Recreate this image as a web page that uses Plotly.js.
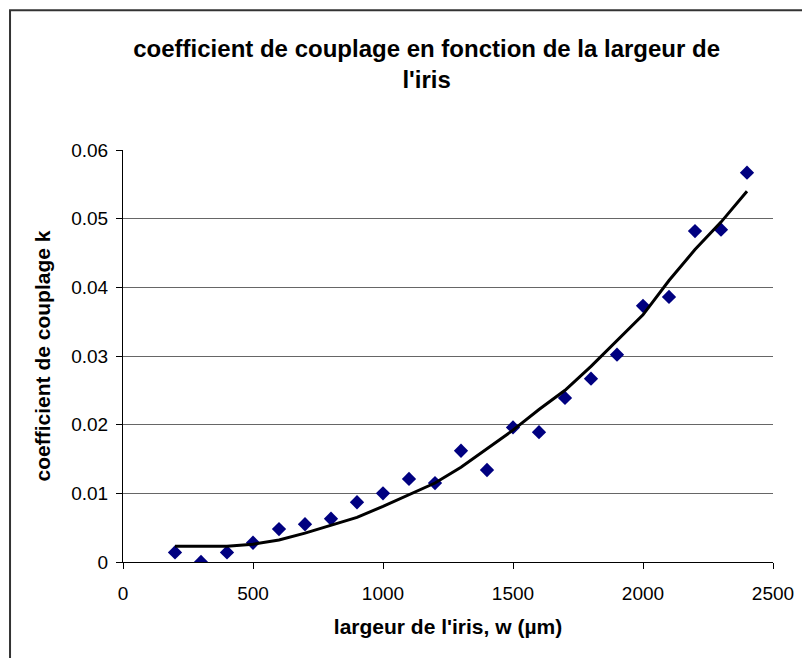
<!DOCTYPE html>
<html>
<head>
<meta charset="utf-8">
<script src="https://cdn.plot.ly/plotly-3.0.1.min.js"></script>
<style>html,body{margin:0;padding:0;background:#fff;}#chart{width:802px;height:658px;}</style>
</head>
<body>
<div id="chart"></div>
<script>
// Measured points: iris width (µm) and coupling coefficient k
const widths = [200, 300, 400, 500, 600, 700, 800, 900, 1000, 1100, 1200, 1300, 1400, 1500, 1600, 1700, 1800, 1900, 2000, 2100, 2200, 2300, 2400];
const kMeasured = [0.0014, 0.0000, 0.0014, 0.0028, 0.0048, 0.0055, 0.0063, 0.0087, 0.0100, 0.0121, 0.0115, 0.0162, 0.0134, 0.0196, 0.0189, 0.0239, 0.0267, 0.0302, 0.0373, 0.0386, 0.0482, 0.0484, 0.0567];
// Fitted curve
const fitWidths = [200, 300, 400, 500, 600, 700, 800, 900, 1000, 1100, 1200, 1300, 1400, 1500, 1600, 1700, 1800, 1900, 2000, 2100, 2200, 2300, 2400];
const kFit = [0.0023, 0.0023, 0.0023, 0.0026, 0.0032, 0.0042, 0.0053, 0.0065, 0.0081, 0.0098, 0.0115, 0.0138, 0.0165, 0.0192, 0.0222, 0.0250, 0.0285, 0.0322, 0.0360, 0.0410, 0.0455, 0.0495, 0.0540];
const xTicks = [0, 500, 1000, 1500, 2000, 2500];
const xTickText = ['0', '500', '1000', '1500', '2000', '2500'];
const yTicks = [0, 0.01, 0.02, 0.03, 0.04, 0.05, 0.06];
const yTickText = ['0', '0.01', '0.02', '0.03', '0.04', '0.05', '0.06'];

const FONT = 'Liberation Sans, Arial, sans-serif';

const traces = [
  {
    x: widths, y: kMeasured, type: 'scatter', mode: 'markers',
    marker: {symbol: 'diamond', size: 11, color: '#000080'},
    showlegend: false, hoverinfo: 'x+y'
  },
  {
    x: fitWidths, y: kFit, type: 'scatter', mode: 'lines',
    line: {color: '#000000', width: 3},
    showlegend: false, hoverinfo: 'x+y'
  }
];

const layout = {
  width: 802, height: 658,
  margin: {l: 123, r: 29, t: 150, b: 96, pad: 0},
  paper_bgcolor: '#ffffff', plot_bgcolor: '#ffffff',
  font: {family: FONT, color: '#000000'},
  title: {
    text: "<b>coefficient de couplage en fonction de la largeur de<br>l'iris</b>",
    font: {family: FONT, size: 24, color: '#000'},
    xref: 'container', x: 0.532, xanchor: 'center',
    yref: 'container', y: 0.913, yanchor: 'top'
  },
  xaxis: {
    range: [0, 2500], tickmode: 'array', tickvals: xTicks, ticktext: xTickText,
    showgrid: false, zeroline: false, showline: true, linecolor: '#000', linewidth: 1,
    ticks: 'outside', ticklen: 6, tickcolor: '#000', tickwidth: 1,
    ticklabelstandoff: 8,
    tickfont: {family: FONT, size: 19, color: '#000'},
    title: {text: "<b>largeur de l'iris, w (µm)</b>", font: {family: FONT, size: 21, color: '#000'}, standoff: 16},
    automargin: false, fixedrange: true
  },
  yaxis: {
    range: [0, 0.06], tickmode: 'array', tickvals: yTicks, ticktext: yTickText,
    showgrid: true, gridcolor: '#666666', gridwidth: 1,
    zeroline: false, showline: true, linecolor: '#000', linewidth: 1,
    ticks: 'outside', ticklen: 6, tickcolor: '#000', tickwidth: 1,
    ticklabelstandoff: 4,
    tickfont: {family: FONT, size: 19, color: '#000'},
    title: {text: '<b>coefficient de couplage k</b>', font: {family: FONT, size: 21, color: '#000'}, standoff: 14},
    automargin: false, fixedrange: true
  },
  shapes: [
    {type: 'rect', xref: 'paper', yref: 'paper', x0: -0.1738, x1: 1.3, y0: -0.5, y1: 1.3394,
     line: {color: '#333333', width: 2}, fillcolor: 'rgba(0,0,0,0)', layer: 'below'}
  ]
};

Plotly.newPlot('chart', traces, layout, {displayModeBar: false, staticPlot: true});
</script>
</body>
</html>
